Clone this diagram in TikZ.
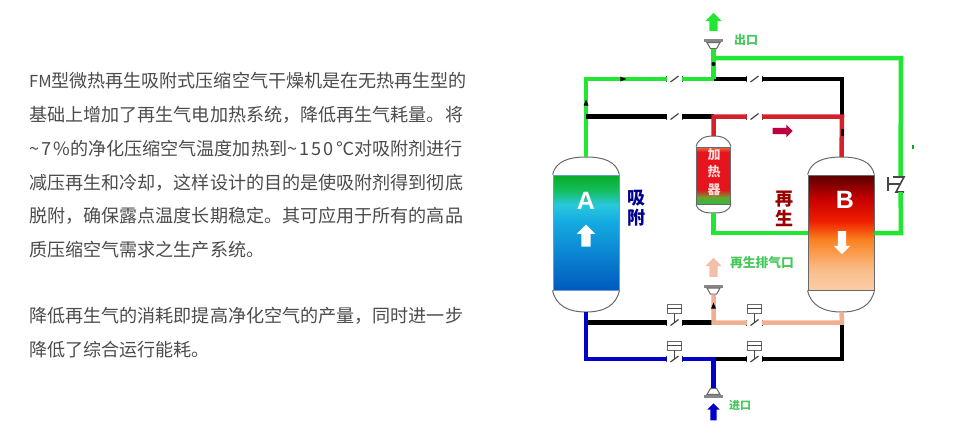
\documentclass[tikz,border=0pt]{standalone}
\usepackage{fontspec}
\setmainfont{Noto Sans CJK SC}
\newfontfamily\latinfont{Liberation Sans}
\usetikzlibrary{positioning,shapes.geometric,shapes.arrows}

\definecolor{pipegreen}{RGB}{35,230,50}
\definecolor{pipeblue}{RGB}{0,0,200}
\definecolor{pipered}{RGB}{210,35,45}
\definecolor{pipepeach}{RGB}{240,175,145}
\definecolor{bodygray}{RGB}{105,105,105}
\definecolor{seatgray}{RGB}{70,70,70}
\definecolor{textgray}{RGB}{75,75,75}
\definecolor{labelgreen}{RGB}{70,200,90}

\definecolor{aone}{RGB}{10,170,40}
\definecolor{atwo}{RGB}{20,190,90}
\definecolor{athree}{RGB}{40,200,220}
\definecolor{afour}{RGB}{20,170,225}
\definecolor{afive}{RGB}{0,90,190}
\definecolor{bone}{RGB}{90,0,0}
\definecolor{btwo}{RGB}{200,0,0}
\definecolor{bthree}{RGB}{240,30,0}
\definecolor{bfour}{RGB}{250,130,30}
\definecolor{bfive}{RGB}{250,190,140}
\definecolor{bsix}{RGB}{250,205,165}
\definecolor{hone}{RGB}{240,110,60}
\definecolor{htwo}{RGB}{230,20,30}
\definecolor{hthree}{RGB}{110,160,50}
\definecolor{hfour}{RGB}{40,190,60}

\pgfdeclareverticalshading{tankA}{100bp}{color(0bp)=(afive); color(25bp)=(afive); color(54.5bp)=(afour); color(62bp)=(athree); color(68.5bp)=(atwo); color(75bp)=(aone); color(100bp)=(aone)}
\pgfdeclareverticalshading{tankB}{100bp}{color(0bp)=(bsix); color(25bp)=(bsix); color(33.5bp)=(bfive); color(47bp)=(bfour); color(55bp)=(bthree); color(64.5bp)=(btwo); color(75bp)=(bone); color(100bp)=(bone)}
\pgfdeclareverticalshading{tankH}{100bp}{color(0bp)=(hfour); color(25bp)=(hfour); color(31bp)=(hthree); color(37.5bp)=(htwo); color(70.5bp)=(htwo); color(75bp)=(hone); color(100bp)=(hone)}

\newcommand{\wideparts}[1]{{\addfontfeature{LetterSpace=12}#1}}

\begin{document}
\begin{tikzpicture}[x=1pt,y=-1pt]
   \useasboundingbox (0,0) rectangle (953,440);
   \tikzset{para/.style = {anchor=west, inner sep=0pt, text=textgray, font=\fontsize{18.08}{18}\selectfont} }
   \tikzset{tank/.style = {rectangle, draw=bodygray, line width=0.8pt, inner sep=0pt, minimum width=66pt, minimum height=115pt} }
   \tikzset{dome/.style = {draw=bodygray, line width=1pt} }
   \tikzset{pipe/.style = {line width=4.5pt} }
   \tikzset{gapvalve/.style = {rectangle, inner sep=0pt, minimum width=15pt, minimum height=8pt} }
   \tikzset{seat/.style = {draw=seatgray, line width=1.2pt} }
   \tikzset{actuator/.style = {rectangle, draw=bodygray, line width=1pt, fill=white, inner sep=0pt, minimum width=14pt, minimum height=9pt} }
   \tikzset{hornbar/.style = {rectangle, fill=bodygray!80, inner sep=0pt, minimum width=19pt, minimum height=3pt} }
   \tikzset{horn/.style = {trapezium, draw=bodygray, fill=white, line width=1pt, inner sep=1pt, trapezium left angle=60, trapezium right angle=60, minimum width=12pt, minimum height=6pt} }
   \tikzset{block/.style = {single arrow, inner sep=#1, single arrow head extend=#1} }
   \tikzset{tiptri/.style = {isosceles triangle, fill=black, inner sep=0pt, minimum width=5pt, minimum height=6pt} }
   \tikzset{tag/.style = {inner sep=0pt, text=labelgreen, font=\bfseries\fontsize{12}{12}\selectfont} }
   \tikzset{side/.style = {inner sep=0pt, font=\bfseries\fontsize{18}{18}\selectfont} }

   % text
   \node[para] (line1) at (29,81) {{\fontsize{16.5}{18}\selectfont FM}\kern-0.5pt 型微热再生吸附式压缩空气干燥机是在无热再生型的};
   \node[para] (line2) at (29,115) {基础上增加了再生气电加热系统，降低再生气耗量。将};
   \node[para] (line3) at (29,149) {\wideparts{\textasciitilde 7\%}的净化压缩空气温度加热到\wideparts{\textasciitilde 150℃}对吸附剂进行};
   \node[para] (line4) at (29,183) {减压再生和冷却，这样设计的目的是使吸附剂得到彻底};
   \node[para] (line5) at (29,216) {脱附，确保露点温度长期稳定。其可应用于所有的高品};
   \node[para] (line6) at (29,250) {质压缩空气需求之生产系统。};
   \node[para] (line7) at (29,316) {降低再生气的消耗即提高净化空气的产量，同时进一步};
   \node[para] (line8) at (29,350) {降低了综合运行能耗。};

   % vessels
   \node[tank, shade, shading=tankA, draw=cyan!50!blue!60] (TA) at (586,232.5) {};
   \node[tank, shade, shading=tankB] (TB) at (841,232.5) {};
   \node[tank, shade, shading=tankH, minimum width=34pt, minimum height=57pt] (TH) at (713.5,175.5) {};
   \coordinate (Atop) at (586,157);
   \coordinate (Abot) at (586,312);
   \coordinate (Btop) at (841.5,157);
   \coordinate (Bbot) at (841.5,312);
   \coordinate (Htop) at (713.5,136);
   \coordinate (Hbot) at (713.5,213);
   \draw[dome] (TA.north west) .. controls +(3,-13) and +(-18,0) .. (Atop) .. controls +(18,0) and +(-3,-13) .. (TA.north east);
   \draw[dome] (TA.south west) .. controls +(3,15) and +(-18,0) .. (Abot) .. controls +(18,0) and +(-3,15) .. (TA.south east);
   \draw[dome] (TB.north west) .. controls +(3,-13) and +(-18,0) .. (Btop) .. controls +(18,0) and +(-3,-13) .. (TB.north east);
   \draw[dome] (TB.south west) .. controls +(3,15) and +(-18,0) .. (Bbot) .. controls +(18,0) and +(-3,15) .. (TB.south east);
   \draw[dome] (TH.north west) .. controls +(2,-8) and +(-9,0) .. (Htop) .. controls +(9,0) and +(-2,-8) .. (TH.north east);
   \draw[dome] (TH.south west) .. controls +(2,7) and +(-9,0) .. (Hbot) .. controls +(9,0) and +(-2,7) .. (TH.south east);

   % valves
   \foreach \name/\px/\py in {VU1/674.5/79, VU2/754.5/79, VM1/674.5/116.5, VM2/754.5/116.5, VL1/674.5/322.5, VL2/754.5/322.5, VB1/674.5/359, VB2/754.5/359} {
     \node[gapvalve] (\name) at (\px,\py) {};
     \draw[seat] ([yshift=-3pt]\name.west) -- ([yshift=3pt]\name.west);
     \draw[seat] ([yshift=-3pt]\name.east) -- ([yshift=3pt]\name.east);
     \draw[seat] ([xshift=-4pt,yshift=-3pt]\name.center) -- ([xshift=4pt,yshift=3pt]\name.center);
   }
   \foreach \name/\valve/\px/\py in {AL1/VL1/674.5/308.5, AL2/VL2/754.5/308.5, AB1/VB1/674.5/345.5, AB2/VB2/754.5/345.5} {
     \node[actuator] (\name) at (\px,\py) {};
     \draw[seat] (\name.west) -- (\name.east);
     \draw[seat] (\name.south) -- (\valve.center);
   }
   \node[gapvalve, minimum width=10pt, minimum height=16pt] (VC) at (900.5,184) {};
   \draw[seat] (888,177) -- (888,191);
   \draw[seat] (888,184) -- (VC.center);
   \draw[seat, line width=1.6pt] (893,177) -- (904,177) -- (896,192) -- (904,192);

   % horns
   \node[hornbar] (Out) at (713.5,40.5) {};
   \node[horn, shape border rotate=180, below=0pt of Out] (OutH) {};
   \node[hornbar] (Vent) at (713.5,286) {};
   \node[horn, shape border rotate=180, below=0pt of Vent] (VentH) {};
   \node[hornbar] (In) at (713.5,396.5) {};
   \node[horn, above=0pt of In] (InH) {};

   % corners and tees
   \coordinate (cUL) at (586,79);
   \coordinate (cUR) at (842,79);
   \coordinate (cML) at (586,116.5);
   \coordinate (cMR) at (842,116.5);
   \coordinate (jU) at (713.5,79);
   \coordinate (jM) at (713.5,116.5);
   \coordinate (jT) at (713.5,58);
   \coordinate (cTR) at (901,58);
   \coordinate (cGL) at (713.5,233);
   \coordinate (cGR) at (901,233);
   \coordinate (jL) at (713.5,322.5);
   \coordinate (jB) at (713.5,359);
   \coordinate (cLL) at (586,322.5);
   \coordinate (cLR) at (842,322.5);
   \coordinate (cBL) at (586,359);
   \coordinate (cBR) at (842,359);

   % black lines
   \draw[pipe, black] (jU) -- (VU2) (VU2) -- (cUR) -- (cMR);
   \draw[pipe, black] (cML) -- (VM1) (VM1) -- (jM);
   \draw[pipe, black] (cLL) -- (VL1) (VL1) -- (jL);
   \draw[pipe, black] (jB) -- (VB2) (VB2) -- (cBR) -- (cLR);
   % green lines
   \draw[pipe, pipegreen] (Atop) -- (cML) -- (cUL) -- (VU1) (VU1) -- (jU);
   \draw[pipe, pipegreen] (jU) -- (jT) -- (OutH.south);
   \draw[pipe, pipegreen] (jT) -- (cTR) -- (VC);
   \draw[pipe, pipegreen] (VC) -- (cGR) -- (cGR -| TB.east);
   \draw[pipe, pipegreen] (Hbot) -- (cGL) -- (cGL -| TB.west);
   \draw[pipe, black] (cML) -- ([xshift=6pt]cML);
   % red lines
   \draw[pipe, pipered] (Htop) -- (jM) -- (VM2) (VM2) -- (cMR) -- (Btop);
   % peach lines
   \draw[pipe, pipepeach] (VentH.south) -- (jL) -- (VL2) (VL2) -- (cLR) -- (Bbot);
   % blue lines
   \draw[pipe, pipeblue] (Abot) -- (cBL) -- (VB1) (VB1) -- (jB) -- (InH.north);

   % flow marks
   \node[tiptri] (tickU) at (622,79) {};
   \node[tiptri, shape border rotate=90] (tickL) at (586,104) {};
   \node[tiptri, shape border rotate=90] (tickV) at (713.5,307) {};
   \node[circle, fill=black, inner sep=0pt, minimum size=4pt] (dotT) at (713.5,64) {};
   \node[rectangle, fill=black, inner sep=0pt, minimum width=3pt, minimum height=7pt] (dotB) at (842,132) {};
   \node[rectangle, fill=pipegreen!70!black, inner sep=0pt, minimum width=1.2pt, minimum height=4pt] (speck) at (913,147) {};

   % block arrows
   \node[block=4pt, fill=pipegreen, shape border rotate=90, minimum height=18pt] (arrOut) at (713.5,24) {};
   \node[block=4pt, fill=pipepeach!80, shape border rotate=90, minimum height=19pt] (arrVent) at (713.5,269.5) {};
   \node[block=3pt, fill=pipeblue, shape border rotate=90, minimum height=17pt] (arrIn) at (713.5,413.5) {};
   \node[block=3pt, fill=red!75!blue, minimum height=20pt] (arrRed) at (781,131) {};
   \node[block=4.5pt, fill=white, shape border rotate=90, minimum height=22pt] (arrA) at (586,238) {};
   \node[block=4pt, fill=white, shape border rotate=270, minimum height=23pt] (arrB) at (842,240.5) {};

   % labels
   \node[inner sep=0pt, text=white, font=\latinfont\bfseries\fontsize{25}{25}\selectfont] (nameA) at (586,201) {A};
   \node[inner sep=0pt, text=white, font=\latinfont\bfseries\fontsize{25}{25}\selectfont] (nameB) at (845,200) {B};
   \node[side, text=blue!55!black] (adsA) at (636,198) {吸};
   \node[side, text=blue!55!black] (adsB) at (636,218) {附};
   \node[side, text=red!60!black] (regA) at (784,199) {再};
   \node[side, text=red!60!black] (regB) at (784,218) {生};
   \node[tag, text=red!15, font=\bfseries\fontsize{13}{13}\selectfont] (heatA) at (714,155) {加};
   \node[tag, text=red!15, font=\bfseries\fontsize{13}{13}\selectfont] (heatB) at (714,172) {热};
   \node[tag, text=red!15, font=\bfseries\fontsize{13}{13}\selectfont] (heatC) at (714,190) {器};
   \node[tag] (tagOut) at (746,39.5) {出口};
   \node[tag, font=\bfseries\fontsize{12.8}{13}\selectfont] (tagVent) at (762,263) {再生排气口};
   \node[tag, font=\bfseries\fontsize{11}{11}\selectfont] (tagIn) at (740,405) {进口};
\end{tikzpicture}
\end{document}
